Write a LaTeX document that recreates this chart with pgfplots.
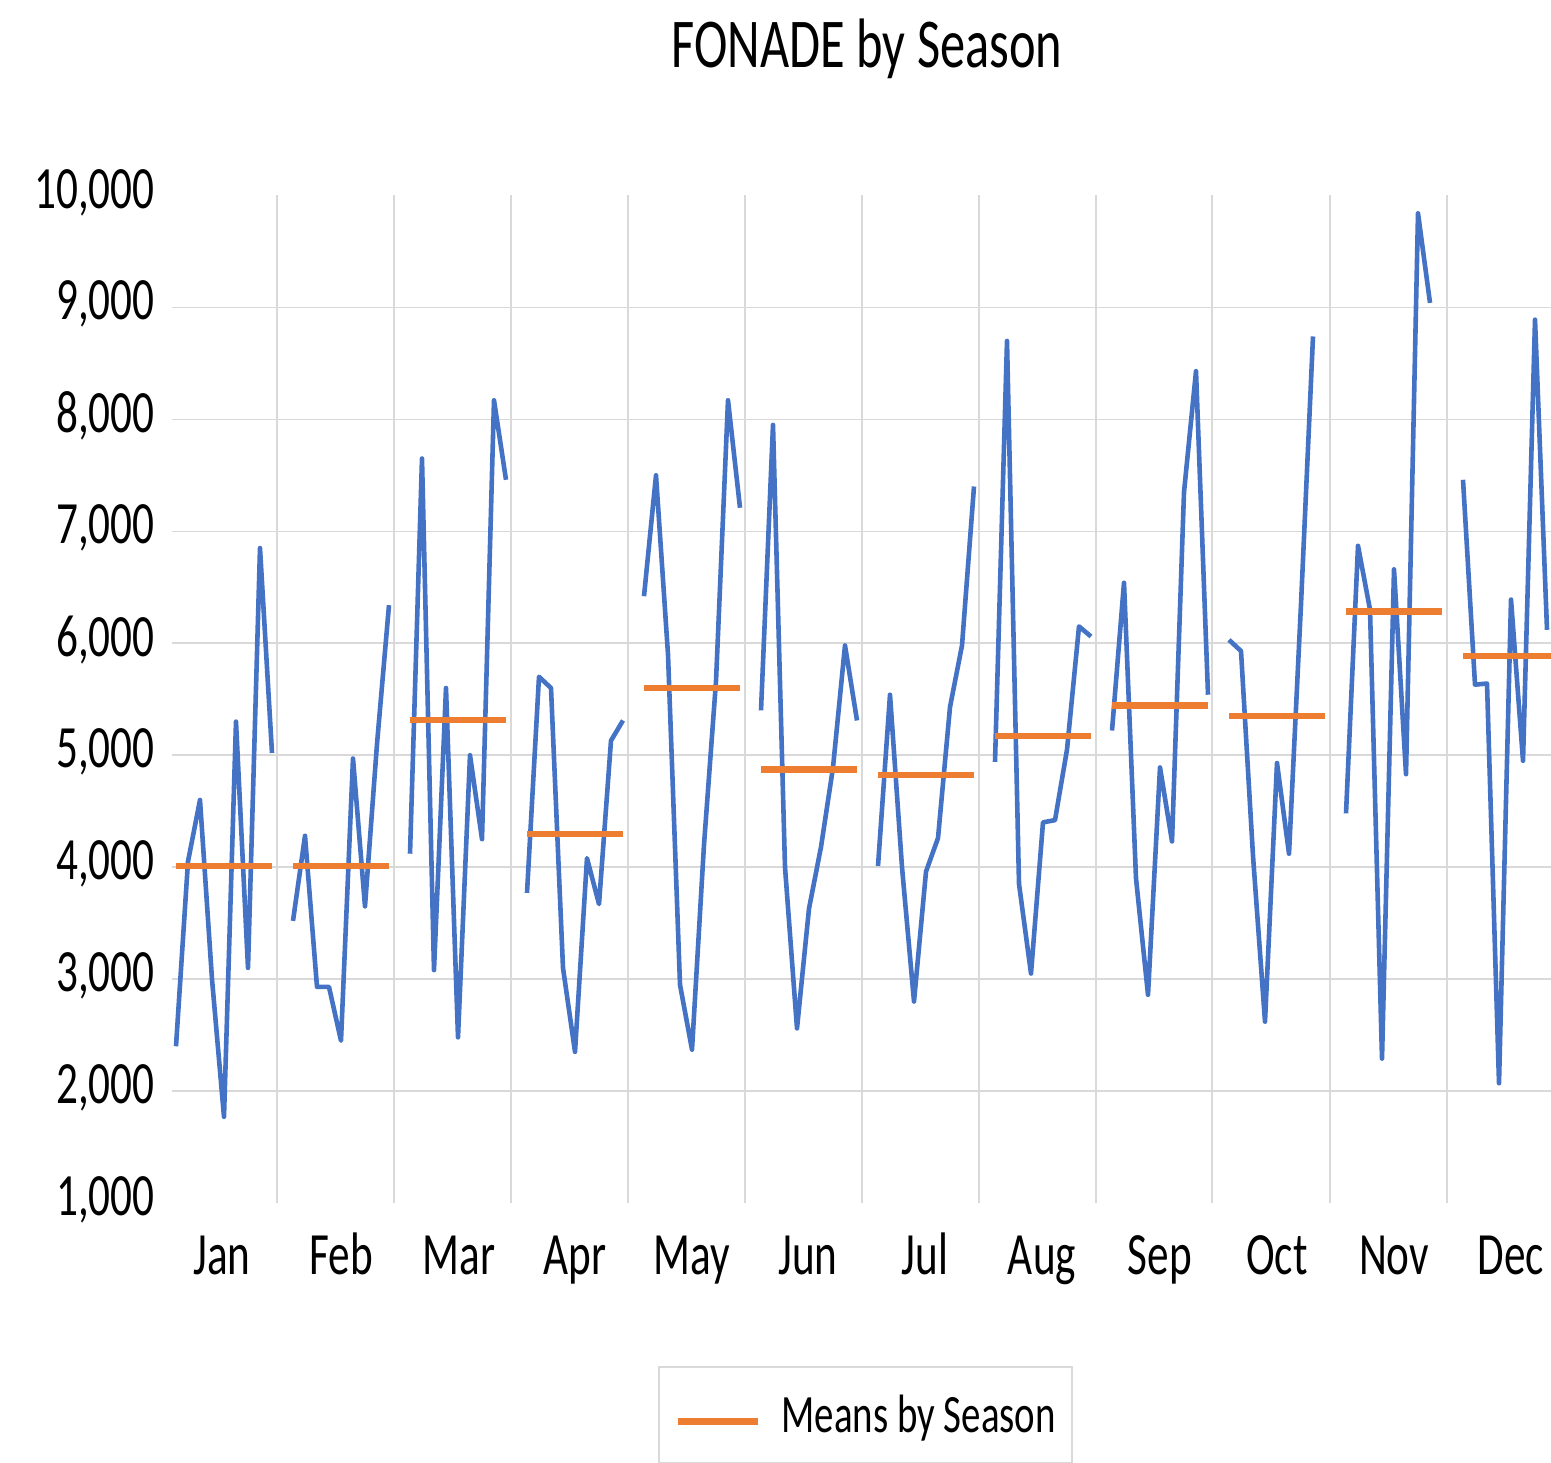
\documentclass[border=0pt]{standalone}
\usepackage{pgfplots}
\pgfplotsset{compat=1.18}
\usepackage{pgfplotstable}
\usepackage{fontspec}
\setmainfont{Carlito}[FakeStretch=0.72]
\definecolor{xlblue}{RGB}{68,114,196}
\definecolor{xlorange}{RGB}{237,125,49}
\definecolor{xlgrid}{RGB}{217,217,217}

% m = month (0=Jan), j = year index within the month, v = value
\pgfplotstableread{
m j v
0 0 2400
0 1 4050
0 2 4600
0 3 3000
0 4 1770
0 5 5300
0 6 3100
0 7 6850
0 8 5020
0 9 nan
1 0 3520
1 1 4280
1 2 2930
1 3 2930
1 4 2450
1 5 4970
1 6 3650
1 7 5100
1 8 6340
1 9 nan
2 0 4120
2 1 7650
2 2 3080
2 3 5600
2 4 2480
2 5 5000
2 6 4250
2 7 8170
2 8 7460
2 9 nan
3 0 3770
3 1 5700
3 2 5600
3 3 3100
3 4 2350
3 5 4080
3 6 3670
3 7 5130
3 8 5310
3 9 nan
4 0 6420
4 1 7500
4 2 5900
4 3 2950
4 4 2370
4 5 4200
4 6 5660
4 7 8170
4 8 7210
4 9 nan
5 0 5400
5 1 7950
5 2 4000
5 3 2560
5 4 3630
5 5 4180
5 6 4890
5 7 5980
5 8 5310
5 9 nan
6 0 4010
6 1 5540
6 2 4000
6 3 2800
6 4 3960
6 5 4260
6 6 5430
6 7 5980
6 8 7400
6 9 nan
7 0 4940
7 1 8700
7 2 3850
7 3 3050
7 4 4400
7 5 4420
7 6 5050
7 7 6150
7 8 6060
7 9 nan
8 0 5220
8 1 6540
8 2 3900
8 3 2860
8 4 4890
8 5 4230
8 6 7350
8 7 8430
8 8 5540
8 9 nan
9 0 6030
9 1 5930
9 2 4100
9 3 2620
9 4 4930
9 5 4120
9 6 6350
9 7 8740
9 9 nan
10 0 4480
10 1 6870
10 2 6300
10 3 2290
10 4 6660
10 5 4830
10 6 9840
10 7 9040
10 9 nan
11 0 7460
11 1 5630
11 2 5640
11 3 2070
11 4 6390
11 5 4950
11 6 8890
11 7 6120
}\obs

\pgfplotstableread{
m j v
0 0 4012
0 8 4012
0 9 nan
1 0 4012
1 8 4012
1 9 nan
2 0 5314
2 8 5314
2 9 nan
3 0 4297
3 8 4297
3 9 nan
4 0 5598
4 8 5598
4 9 nan
5 0 4871
5 8 4871
5 9 nan
6 0 4822
6 8 4822
6 9 nan
7 0 5172
7 8 5172
7 9 nan
8 0 5445
8 8 5445
8 9 nan
9 0 5352
9 8 5352
9 9 nan
10 0 6282
10 8 6282
10 9 nan
11 0 5888
11 8 5888
}\means

\begin{document}
\begin{tikzpicture}
\begin{axis}[
  at={(0,0)}, anchor=south west,
  scale only axis, width=689.5pt, height=503.8pt,
  xmin=172, xmax=1551, ymin=1000, ymax=10000,
  scaled y ticks=false, scaled x ticks=false,
  axis line style={draw=none},
  major tick length=0pt,
  tick style={draw=none},
  xtick={222,341,459,575,692,808,925,1042,1160,1277,1394,1511},
  xticklabels={Jan,Feb,Mar,Apr,May,Jun,Jul,Aug,Sep,Oct,Nov,Dec},
  xticklabel style={anchor=base, yshift=-35.5pt, inner sep=0pt, font=\fontsize{30}{36}\selectfont},
  ytick={1000,2000,3000,4000,5000,6000,7000,8000,9000,10000},
  yticklabels={{1,000},{2,000},{3,000},{4,000},{5,000},{6,000},{7,000},{8,000},{9,000},{10,000}},
  yticklabel style={anchor=east, inner sep=0pt, xshift=-8.5pt, yshift=1.5pt, font=\fontsize{30}{36}\selectfont},
  extra x ticks={277,394,511,628,745,862,979,1096,1212,1330,1447},
  extra x tick labels={},
  extra x tick style={grid=major, major grid style={xlgrid, line width=0.75pt}},
  extra y ticks={2000,3000,4000,5000,6000,7000,8000,9000},
  extra y tick labels={},
  extra y tick style={grid=major, major grid style={xlgrid, line width=0.75pt}},
  unbounded coords=jump,
  legend style={at={(0.5029,-0.2104)}, anchor=center, draw=xlgrid, line width=0.75pt,
    inner xsep=8pt, inner ysep=0pt, font=\fontsize{27}{32}\selectfont,
    /tikz/every odd column/.append style={column sep=10pt},
    nodes={inner sep=0pt, text height=32.75pt, text depth=15.25pt}},
  legend image code/.code={\draw[#1] (0pt,-3.25pt) -- (40pt,-3.25pt);},
]
\addplot[xlblue, line width=2.3pt, line join=round, forget plot]
  table[x expr={176+117*\thisrow{m}+12*\thisrow{j}}, y=v]{\obs};
\addplot[xlorange, line width=3.2pt]
  table[x expr={176+117*\thisrow{m}+12*\thisrow{j}}, y=v]{\means};
\addlegendentry{Means by Season}
\end{axis}
\node[anchor=base, font=\fontsize{35}{42}\selectfont] at (347.5pt,567.5pt) {FONADE by Season};
\pgfresetboundingbox
\path[use as bounding box] (-86pt,-129.5pt) rectangle (689.5pt,601.5pt);
\end{tikzpicture}
\end{document}
